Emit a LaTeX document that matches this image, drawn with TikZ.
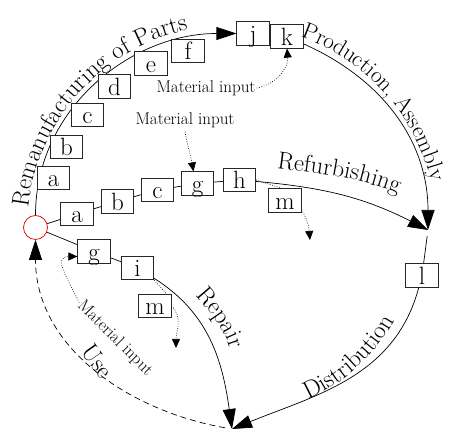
\documentclass[tikz,border=0pt]{standalone}
\usepackage{fontspec}
\usetikzlibrary{arrows.meta,decorations.text,backgrounds}
\newcommand\boxfont{\fontsize{25}{25}\selectfont}
\newcommand\arcfont{\fontsize{24.5}{24.5}\selectfont}
\newcommand\arcfontsmall{\fontsize{23}{23}\selectfont}
\newcommand\notefont{\fontsize{17}{17}\selectfont}
\begin{document}
\begin{tikzpicture}[x=1pt,y=1pt,
  part/.style={draw=black!85, line width=0.7pt, fill=white,
    minimum width=32.5pt, minimum height=23.5pt, inner sep=0pt,
    text height=17.2pt, text depth=0pt, font=\boxfont},
  hub/.style={circle, draw=red!85!black, line width=0.7pt, fill=white,
    minimum size=24pt, inner sep=0pt},
  flow/.style={line width=0.7pt},
  bigarrow/.style={-{Triangle[length=20pt,width=13pt]}},
  feed/.style={line width=0.6pt, dash pattern=on 0.8pt off 1.6pt,
    -{Triangle[length=9pt,width=8pt]}},
  feedline/.style={line width=0.6pt, dash pattern=on 0.8pt off 1.6pt},
  usepath/.style={line width=0.7pt, dash pattern=on 6pt off 4pt,
    -{Triangle[length=20pt,width=13pt]}},
  note/.style={font=\notefont, inner sep=1pt},
  arclabel/.style={decorate, decoration={text along path,
    text align=center, text={|\arcfont|#1}}},
  arclabelsmall/.style={decorate, decoration={text along path,
    text align=center, text={|\arcfontsmall|#1}}},
]
\useasboundingbox (0,0) rectangle (451,431);
\coordinate (C) at (232,201);

% central hub
\node[hub] (O) at (35.5,203.5) {};

% remanufacturing chain
\node[part] (a1) at (53.5,253) {a};
\node[part] (b1) at (66.5,284) {b};
\node[part] (c1) at (87.5,316) {c};
\node[part] (d1) at (114.5,344.5) {d};
\node[part] (e1) at (151,367.5) {e};
\node[part] (f1) at (188,380) {f};
\node[part] (j) at (253,397.5) {j};
\node[part] (k) at (287,394.5) {k};

% refurbishing chain
\node[part] (a2) at (77,217) {a};
\node[part] (b2) at (117.5,229.5) {b};
\node[part] (c2) at (157.5,241) {c};
\node[part] (g2) at (197.5,247.5) {g};
\node[part] (h2) at (239.5,251) {h};
\node[part] (m2) at (285,230.5) {m};

% repair chain
\node[part] (g3) at (94,179.5) {g};
\node[part] (i3) at (137.5,163) {i};
\node[part] (m3) at (155,125) {m};

% distribution
\node[part] (l) at (422,155.5) {l};

\coordinate (R) at (428,201);
\coordinate (B) at (232,2);
\coordinate (T2) at (310,191);
\coordinate (T3) at (176,83);

% material inputs
\node[note] (MI1) at (206,343) {Material input};
\node[note] (MI2) at (185,311) {Material input};
\node[note, rotate=-45] (MI3) at (115,92.5) {Material input};

\begin{scope}[on background layer]
  \draw[flow, bigarrow] (O) to[out=90,in=180] (j);
  \draw[flow] (j) -- (k);
  \draw[flow, bigarrow] (k) to[out=-24,in=90] (R);
  \draw[flow] (O) -- (a2) -- (b2) -- (c2) -- (g2) -- (h2);
  \draw[flow, bigarrow] (h2) to[out=-5,in=153] (R);
  \draw[flow] (O) -- (g3) -- (i3);
  \draw[flow, bigarrow] (i3) to[out=-32,in=98] (B);
  \draw[flow, shorten <=6pt] (R) -- (l);
  \draw[flow, bigarrow] (l) to[out=-105,in=22] (B);
  \draw[usepath, shorten <=7pt] (B) to[out=170,in=-90] (O);
  % side streams
  \draw[feedline] (h2.east) -- ([xshift=-3pt]m2.north);
  \draw[feed] ([yshift=3pt]m2.south east) to[out=-60,in=95] (T2);
  \draw[feedline] (i3.south east) -- ([xshift=-5pt]m3.north east);
  \draw[feed] (m3.east) to[out=-45,in=90] (T3);
  \draw[feed] (MI1.east) to[out=10,in=-85] (k.south);
  \draw[feed] ([yshift=-3pt]MI2.south) to[out=-80,in=100] ([xshift=-4pt]g2.north);
  \draw[feed] (MI3.west) to[out=115,in=180,looseness=1.4] ([yshift=-5pt]g3.west);
\end{scope}

% process labels
\path[arclabel={Remanufacturing of Parts}]
  ([shift={(C)}]175:205) arc[start angle=175, end angle=101, radius=205];
\path[arclabelsmall={Production, Assembly}]
  ([shift={(C)}]76:205) arc[start angle=76, end angle=8, radius=205];
\path[arclabel={Distribution}]
  ([shift={(C)}]-72:186) arc[start angle=-72, end angle=-23, radius=186];
\path[arclabel={Refurbishing}] (262,265) to[out=-8,in=157] (412,232);
\path[arclabel={Repair}] (186,147) to[out=-50,in=100] (234,67);
\path[arclabel={Use}] (73,89) to[out=-50,in=135] (110,42);
\end{tikzpicture}
\end{document}
